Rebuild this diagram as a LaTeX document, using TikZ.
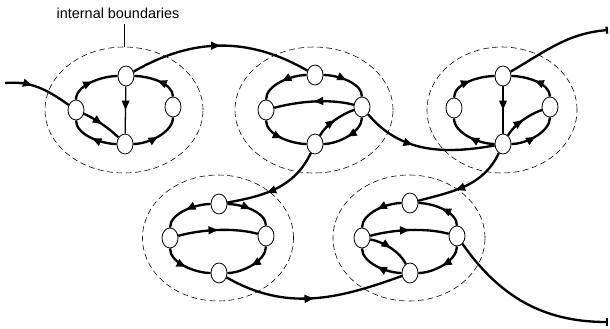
\documentclass[tikz,border=0pt]{standalone}
\usepackage{fontspec}
\setmainfont{Liberation Sans}
\usetikzlibrary{arrows.meta, shapes.geometric, decorations.markings}

\begin{document}
\begin{tikzpicture}[
    x=0.03cm, y=0.03cm,
    state/.style={draw, ellipse, fill=white, minimum width=0.48cm, minimum height=0.6cm, inner sep=0pt, line width=0.7pt},
    boundary/.style={draw, dashed, dash pattern=on 5pt off 3pt, ellipse, minimum width=#1, minimum height=3.78cm, inner sep=0pt, line width=0.5pt},
    boundary/.default=4.6cm,
    flow/.style={line width=2pt, postaction={decorate}, decoration={markings, mark=at position #1 with {\arrow{Triangle[length=8pt, width=6.5pt]}}}},
    flow/.default=0.5,
    ring/.style={flow, looseness=0.8},
    exit/.style={line width=2pt, -{Bar[width=6pt]}},
    pointer/.style={line width=0.5pt},
    caption/.style={font=\fontsize{12.3}{14}\selectfont, inner sep=1pt}
]
\useasboundingbox (0,0) rectangle (610,-328);

% --- Internal boundaries ---
\node[boundary=4.74cm] (b1) at (124,-110) {};
\node[boundary=4.74cm] (b2) at (314,-110) {};
\node[boundary=4.5cm]  (b3) at (502,-110) {};
\node[boundary=4.53cm] (b4) at (218,-238) {};
\node[boundary=4.56cm] (b5) at (409,-238) {};

\node[caption] (label) at (118,-13) {internal boundaries};
\draw[pointer] ([yshift=-4pt]label.south -| b1.north) -- (b1.north);

% --- States ---
\node[state] (c1t) at (126,-76) {};
\node[state] (c1l) at (76,-110) {};
\node[state] (c1r) at (173,-107) {};
\node[state] (c1b) at (125,-144) {};

\node[state] (c2t) at (315,-75) {};
\node[state] (c2l) at (266,-110) {};
\node[state] (c2r) at (362,-107) {};
\node[state] (c2b) at (315,-144) {};

\node[state] (c3t) at (503,-76) {};
\node[state] (c3l) at (454,-108) {};
\node[state] (c3r) at (550,-107) {};
\node[state] (c3b) at (503,-144) {};

\node[state] (c4t) at (219,-204) {};
\node[state] (c4l) at (170,-238) {};
\node[state] (c4r) at (266,-236) {};
\node[state] (c4b) at (219,-273) {};

\node[state] (c5t) at (410,-203) {};
\node[state] (c5l) at (362,-238) {};
\node[state] (c5r) at (457,-236) {};
\node[state] (c5b) at (410,-273) {};

\coordinate (start) at (5,-83);
\coordinate (end1) at (608,-30);
\coordinate (end2) at (608,-322);

% --- Cluster 1 ---
\draw[ring] (c1l) to[out=90, in=180] (c1t);
\draw[ring] (c1r) to[out=90, in=0] (c1t);
\draw[flow, line width=1.1pt] (c1t) -- (c1b);
\draw[ring] (c1b) to[out=180, in=-90] (c1l);
\draw[ring] (c1b) to[out=0, in=-90] (c1r);
\draw[ring] (c1l) to[out=-25, in=135] (c1b);

% --- Cluster 2 ---
\draw[ring] (c2t) to[out=180, in=90] (c2l);
\draw[ring] (c2t) to[out=0, in=90] (c2r);
\draw[ring] (c2r) to[out=165, in=15] (c2l);
\draw[ring] (c2l) to[out=-90, in=180] (c2b);
\draw[ring] (c2r) to[out=-90, in=0] (c2b);
\draw[ring] (c2b) to[out=60, in=200] (c2r);

% --- Cluster 3 ---
\draw[ring] (c3l) to[out=90, in=180] (c3t);
\draw[ring] (c3r) to[out=90, in=0] (c3t);
\draw[flow, line width=1.1pt] (c3t) -- (c3b);
\draw[ring] (c3b) to[out=180, in=-90] (c3l);
\draw[ring] (c3b) to[out=0, in=-90] (c3r);
\draw[ring] (c3b) to[out=60, in=200] (c3r);

% --- Cluster 4 ---
\draw[ring] (c4t) to[out=180, in=90] (c4l);
\draw[ring] (c4t) to[out=0, in=90] (c4r);
\draw[ring] (c4l) to[out=15, in=165] (c4r);
\draw[ring] (c4l) to[out=-90, in=180] (c4b);
\draw[ring] (c4r) to[out=-90, in=0] (c4b);

% --- Cluster 5 ---
\draw[ring] (c5t) to[out=180, in=90] (c5l);
\draw[ring] (c5r) to[out=90, in=0] (c5t);
\draw[ring] (c5l) to[out=15, in=165] (c5r);
\draw[ring] (c5l) to[out=-10, in=115] (c5b);
\draw[ring] (c5b) to[out=180, in=-90] (c5l);
\draw[ring] (c5r) to[out=-90, in=0] (c5b);

% --- Links between boundaries ---
\draw[flow=0.4] (start) to[out=5, in=145] (c1l);
\draw[flow=0.5] (c1t) to[out=30, in=150] (c2t);
\draw[flow=0.4] (c2r) to[out=-50, in=190] (c3b);
\draw[flow=0.6] (c2b) to[out=-115, in=10] (c4t);
\draw[flow=0.6] (c3b) to[out=-115, in=15] (c5t);
\draw[flow=0.5] (c4b) to[out=-30, in=200] (c5b);
\draw[exit] (c3t) to[out=30, in=185] (end1);
\draw[exit] (c5r) to[out=-55, in=180] (end2);

\end{tikzpicture}
\end{document}
